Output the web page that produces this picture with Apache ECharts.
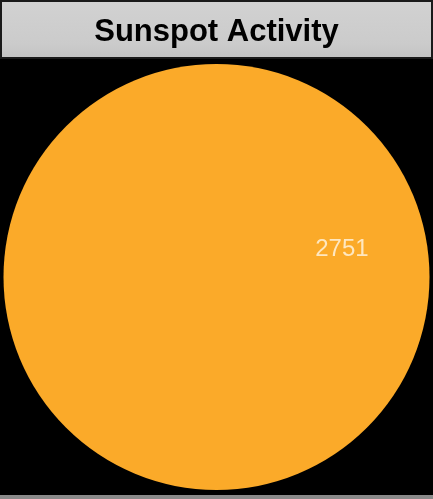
<!DOCTYPE html>
<html>
<head>
<meta charset="utf-8">
<script src="https://cdn.jsdelivr.net/npm/echarts@6/dist/echarts.min.js"></script>
<style>
html,body{margin:0;padding:0;background:#000;}
#c{width:433px;height:499px;}
</style>
</head>
<body>
<div id="c"></div>
<script>
// Data
var titleText = 'Sunspot Activity';
// Sun disk in normalized solar coordinates (center x, center y, radius)
var sunDisk = [[0, 0, 1]];
// Sunspot groups: [x, y, region number] in normalized disk coordinates
var sunspotX = [0.589];
var sunspotY = [0.131];
var sunspotIds = ['2751'];

var spots = sunspotX.map(function (x, i) { return [x, sunspotY[i], sunspotIds[i]]; });

var chart = echarts.init(document.getElementById('c'));
chart.setOption({
  backgroundColor: '#000',
  animation: false,
  graphic: [
    {
      type: 'rect',
      shape: { x: 1, y: 1, width: 431, height: 57 },
      style: {
        fill: new echarts.graphic.LinearGradient(0, 0, 0, 1, [
          { offset: 0, color: '#d2d2d2' },
          { offset: 0.75, color: '#cbcbcb' },
          { offset: 1, color: '#c2c2c2' }
        ]),
        stroke: '#1a1a1a',
        lineWidth: 2
      },
      z: 10
    },
    {
      type: 'rect',
      shape: { x: 0, y: 495, width: 433, height: 4 },
      style: { fill: '#8a8a8a' },
      z: 10
    }
  ],
  title: {
    text: titleText,
    left: 'center',
    top: 12,
    z: 20,
    textStyle: {
      fontFamily: 'Liberation Sans, Arial, sans-serif',
      fontWeight: 'bold',
      fontSize: 31,
      color: '#000'
    }
  },
  grid: { left: 3.5, right: 3.5, top: 64, bottom: 9 },
  xAxis: { type: 'value', min: -1, max: 1, show: false },
  yAxis: { type: 'value', min: -1, max: 1, show: false },
  series: [
    {
      type: 'custom',
      data: sunDisk,
      renderItem: function (params, api) {
        var c = api.coord([api.value(0), api.value(1)]);
        var r = api.size([api.value(2), api.value(2)]);
        return {
          type: 'circle',
          shape: { cx: c[0], cy: c[1], r: r[0] },
          style: { fill: '#fbaa29' }
        };
      },
      silent: true
    },
    {
      type: 'scatter',
      data: spots,
      symbolSize: 1,
      itemStyle: { color: 'rgba(0,0,0,0)' },
      label: {
        show: true,
        position: 'inside',
        formatter: function (p) { return p.value[2]; },
        fontFamily: 'Liberation Sans, Arial, sans-serif',
        fontSize: 24,
        color: '#fff6e6'
      },
      z: 5
    }
  ]
});
</script>
</body>
</html>
